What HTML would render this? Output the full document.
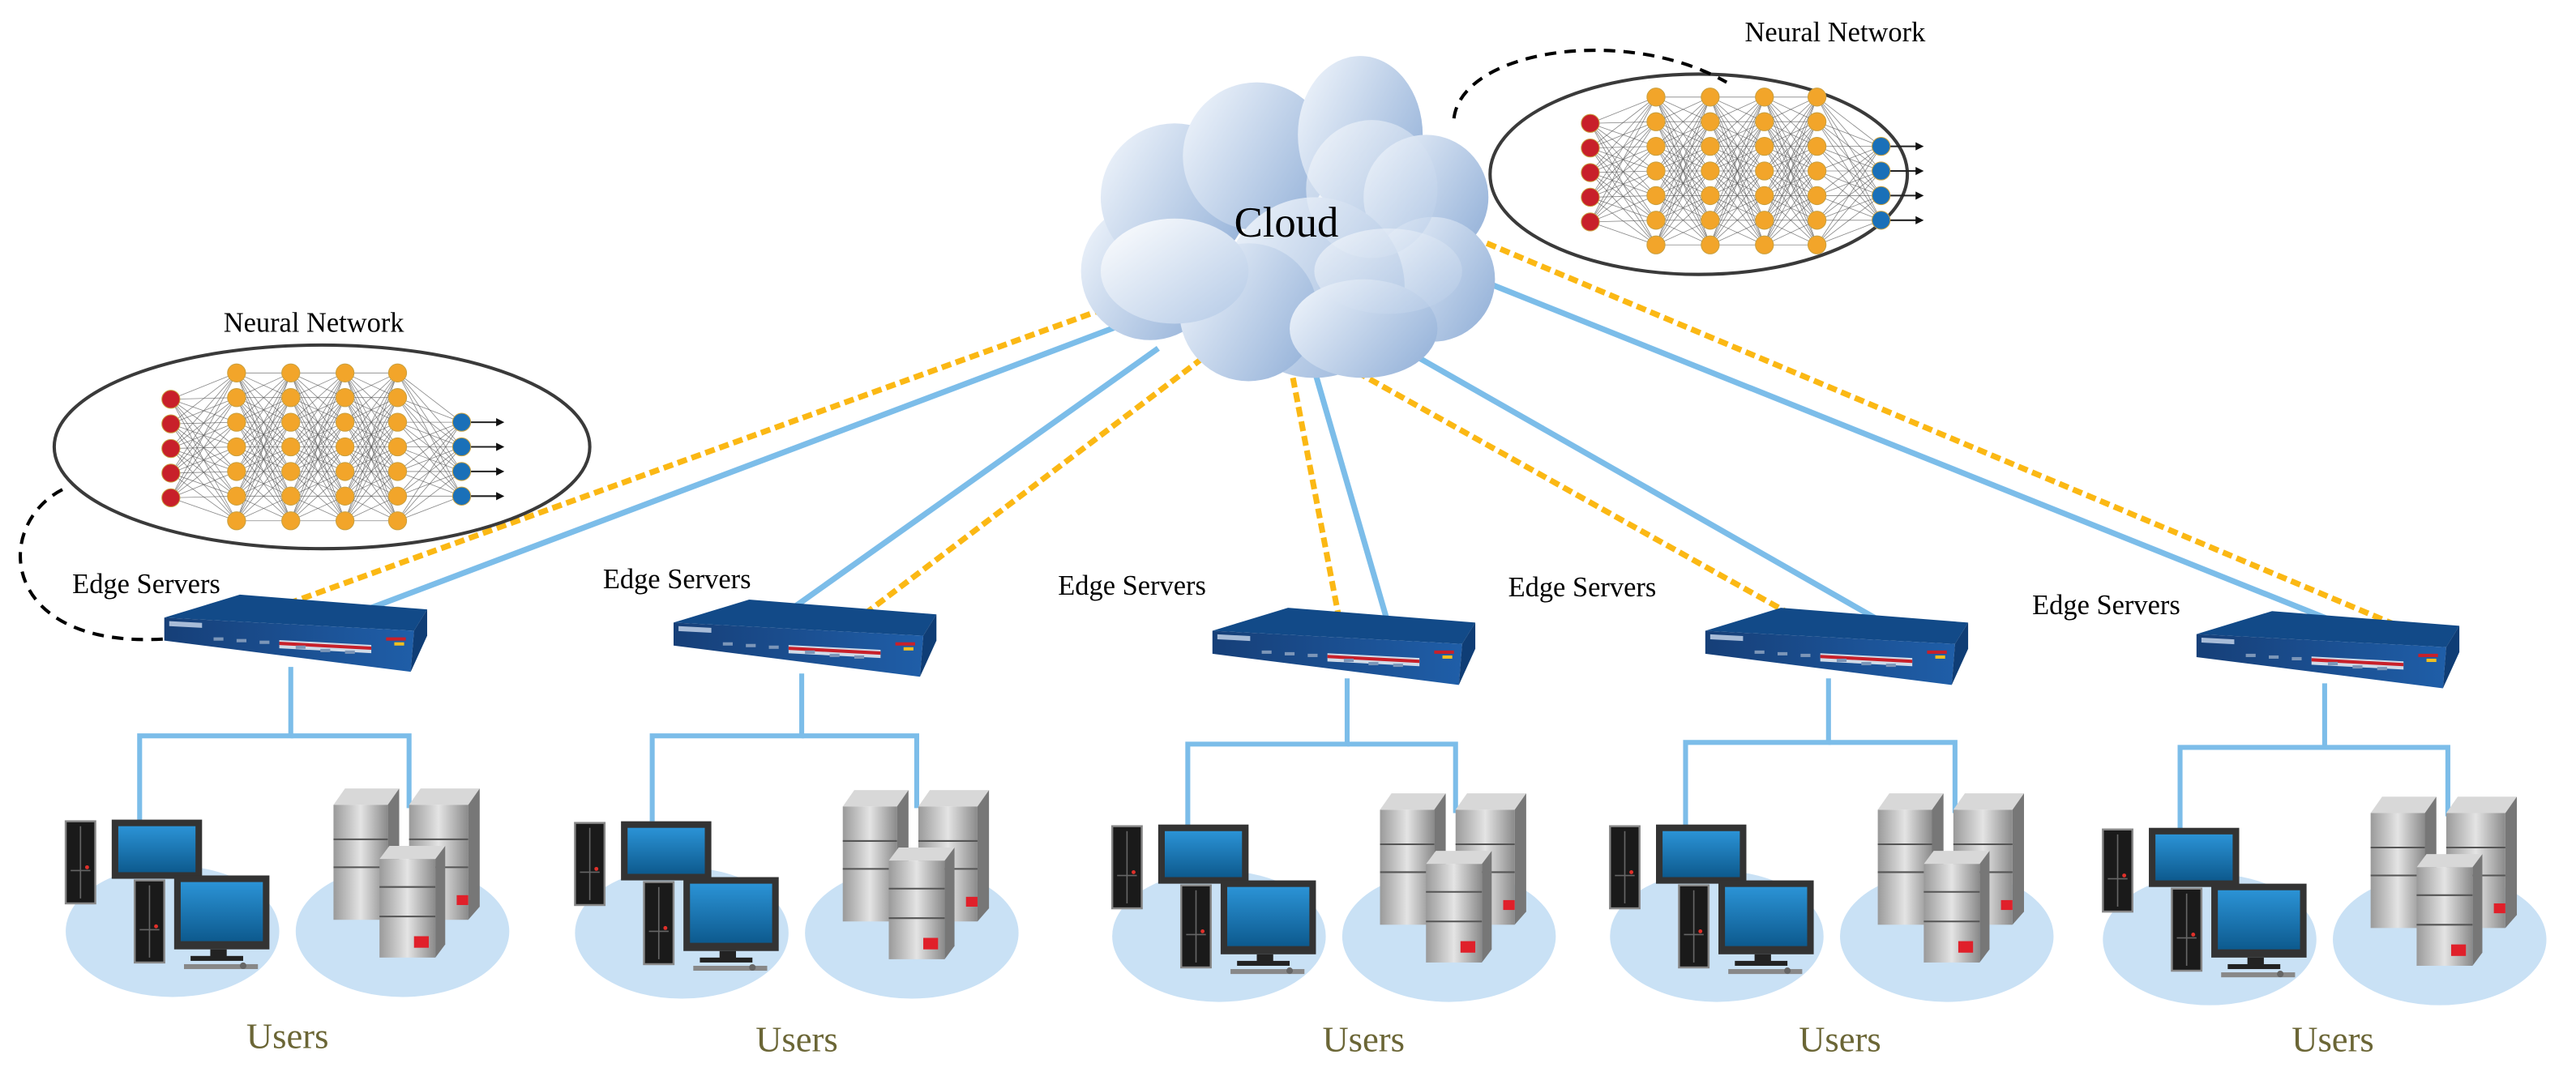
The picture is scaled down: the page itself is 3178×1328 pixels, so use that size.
<!DOCTYPE html>
<html><head><meta charset="utf-8"><style>
html,body{margin:0;padding:0;background:#fff;}
svg{display:block;}
svg text{font-family:"Liberation Serif","Times New Roman",serif !important;}
</style></head><body>
<svg id="s" width="3178" height="1328" viewBox="0 0 1568 655" xmlns="http://www.w3.org/2000/svg" font-family="Liberation Serif, serif">
<defs>
<linearGradient id="cg" x1="0" y1="0" x2="1" y2="0.6">
<stop offset="0" stop-color="#f4f8fd"/><stop offset="1" stop-color="#9db8dc"/></linearGradient>
<linearGradient id="cg2" x1="0" y1="0" x2="1" y2="1">
<stop offset="0" stop-color="#ffffff"/><stop offset="1" stop-color="#b3c9e6"/></linearGradient>
<linearGradient id="mon" x1="0" y1="0" x2="0" y2="1">
<stop offset="0" stop-color="#2b93d6"/><stop offset="1" stop-color="#0d5a8e"/></linearGradient>
<linearGradient id="srv" x1="0" y1="0" x2="1" y2="0">
<stop offset="0" stop-color="#9a9a9a"/><stop offset="0.5" stop-color="#e4e4e4"/><stop offset="1" stop-color="#8a8a8a"/></linearGradient>
<linearGradient id="sw" x1="0" y1="0" x2="1" y2="0">
<stop offset="0" stop-color="#163f78"/><stop offset="1" stop-color="#1f5ea8"/></linearGradient>
<g id="nn"></g>
<g id="switch">
<polygon points="0,14 46,0 160,9 152,22" fill="#124a88"/>
<polygon points="0,14 152,22 150,47 0,28" fill="url(#sw)"/>
<polygon points="152,22 160,9 160,25 150,47" fill="#0f3d75"/>
<rect x="70" y="24" width="56" height="5" fill="#d0dbe8" transform="skewY(3)"/>
<rect x="70" y="25" width="56" height="2" fill="#c8202a" transform="skewY(3)"/>
<rect x="3" y="16" width="20" height="3" fill="#a8bcd8" transform="skewY(3)"/>
<rect x="135" y="26" width="12" height="2" fill="#c8202a"/>
<rect x="140" y="29" width="6" height="2" fill="#f0c020"/>
<g fill="#7c96b8"><rect x="30" y="26" width="6" height="2"/><rect x="44" y="27" width="6" height="2"/><rect x="58" y="28" width="6" height="2"/><rect x="80" y="31" width="6" height="2"/><rect x="95" y="33" width="6" height="2"/><rect x="110" y="34" width="6" height="2"/></g>
</g>
<g id="tower">
<rect x="0" y="0" width="18" height="50" fill="#1a1a1a" stroke="#888" stroke-width="1.2"/>
<line x1="9" y1="3" x2="9" y2="47" stroke="#666" stroke-width="0.8"/>
<line x1="3" y1="30" x2="15" y2="30" stroke="#666" stroke-width="0.8"/>
<circle cx="13" cy="28" r="1.2" fill="#e0302a"/>
</g>
<g id="group">
<ellipse cx="105" cy="567" rx="65" ry="40" fill="#c9e1f5"/>
<ellipse cx="245" cy="567" rx="65" ry="40" fill="#c9e1f5"/>
<use href="#tower" transform="translate(40,500)"/>
<rect x="68" y="499" width="55" height="36" fill="#333"/>
<rect x="72" y="503" width="47" height="28" fill="url(#mon)"/>
<rect x="106" y="533" width="58" height="45" fill="#333"/>
<rect x="110" y="537" width="50" height="36" fill="url(#mon)"/>
<rect x="128" y="578" width="10" height="5" fill="#222"/>
<rect x="116" y="582" width="32" height="3" fill="#222"/>
<rect x="112" y="587" width="45" height="3" fill="#888"/>
<use href="#tower" transform="translate(82,536)"/>
<circle cx="148" cy="588" r="2" fill="#666"/>
<polygon points="203,490 210,480 243,480 236,490" fill="#d8d8d8"/>
<polygon points="243,480 243,552 236,560 236,490" fill="#777"/>
<rect x="203" y="490" width="33" height="70" fill="url(#srv)"/>
<polygon points="249,490 256,480 292,480 285,490" fill="#d8d8d8"/>
<polygon points="292,480 292,552 285,560 285,490" fill="#777"/>
<rect x="249" y="490" width="36" height="70" fill="url(#srv)"/>
<rect x="278" y="545" width="7" height="6" fill="#e0202a"/>
<line x1="203" y1="511" x2="236" y2="511" stroke="#555"/><line x1="203" y1="528" x2="236" y2="528" stroke="#555"/>
<line x1="249" y1="511" x2="285" y2="511" stroke="#555"/><line x1="249" y1="528" x2="285" y2="528" stroke="#555"/>
<polygon points="231,523 237,515 271,515 265,523" fill="#d8d8d8"/>
<polygon points="271,515 271,575 265,583 265,523" fill="#777"/>
<rect x="231" y="523" width="34" height="60" fill="url(#srv)"/>
<line x1="231" y1="540" x2="265" y2="540" stroke="#555"/><line x1="231" y1="558" x2="265" y2="558" stroke="#555"/>
<rect x="252" y="570" width="9" height="7" fill="#e0202a"/>
</g>
</defs>

<g fill="none" stroke-width="3.5">
<g stroke="#7cbde9">
<line x1="690" y1="195" x2="210" y2="376"/>
<line x1="705" y1="212" x2="480" y2="372"/>
<line x1="800" y1="225" x2="845" y2="380"/>
<line x1="850" y1="210" x2="1155" y2="384"/>
<line x1="900" y1="170" x2="1425" y2="380"/>
</g>
<g stroke="#fbb814" stroke-dasharray="6,3">
<line x1="672" y1="188" x2="160" y2="373"/>
<line x1="732" y1="218" x2="526" y2="374"/>
<line x1="787" y1="230" x2="815" y2="376"/>
<line x1="818" y1="222" x2="1090" y2="374"/>
<line x1="905" y1="148" x2="1462" y2="382"/>
</g>
</g>

<g>
<circle cx="700" cy="165" r="42" fill="url(#cg)"/>
<circle cx="715" cy="120" r="45" fill="url(#cg)"/>
<circle cx="765" cy="95" r="45" fill="url(#cg)"/>
<ellipse cx="828" cy="82" rx="38" ry="48" fill="url(#cg)"/>
<circle cx="868" cy="120" r="38" fill="url(#cg)"/>
<circle cx="872" cy="170" r="38" fill="url(#cg)"/>
<circle cx="800" cy="175" r="55" fill="url(#cg)"/>
<circle cx="760" cy="190" r="42" fill="url(#cg)"/>
<ellipse cx="830" cy="200" rx="45" ry="30" fill="url(#cg)"/>
<ellipse cx="715" cy="165" rx="45" ry="32" fill="url(#cg2)"/>
<ellipse cx="835" cy="115" rx="40" ry="42" fill="url(#cg2)" opacity="0.6"/>
<ellipse cx="845" cy="165" rx="45" ry="26" fill="url(#cg2)" opacity="0.6"/>
</g>
<text x="783" y="144" font-size="26" text-anchor="middle">Cloud</text>

<ellipse cx="1034" cy="106" rx="127" ry="61" fill="#fff" stroke="#3a3a3a" stroke-width="2"/>
<ellipse cx="196" cy="272" rx="163" ry="62" fill="#fff" stroke="#3a3a3a" stroke-width="2"/>
<use href="#nn"/>
<use href="#nn" transform="translate(-864,168)"/>
<text x="1117" y="25" font-size="17" text-anchor="middle">Neural Network</text>
<text x="191" y="202" font-size="17" text-anchor="middle">Neural Network</text>
<path d="M885,72 C890,30 990,15 1051,50" fill="none" stroke="#000" stroke-width="2" stroke-dasharray="7,5"/>
<path d="M38,298 C-5,320 0,395 100,389" fill="none" stroke="#000" stroke-width="2" stroke-dasharray="7,5"/>

<use href="#switch" transform="translate(100,362)"/>
<use href="#switch" transform="translate(410,365)"/>
<use href="#switch" transform="translate(738,370)"/>
<use href="#switch" transform="translate(1038,370)"/>
<use href="#switch" transform="translate(1337,372)"/>
<g font-size="17">
<text x="44" y="361">Edge Servers</text>
<text x="367" y="358">Edge Servers</text>
<text x="644" y="362">Edge Servers</text>
<text x="918" y="363">Edge Servers</text>
<text x="1237" y="374">Edge Servers</text>
</g>

<g fill="none" stroke="#7cbde9" stroke-width="3">
<polyline points="85,500 85,448 177,448 177,406"/><polyline points="177,448 249,448 249,492"/>
<polyline points="397,500 397,448 488,448 488,410"/><polyline points="488,448 558,448 558,492"/>
<polyline points="723,503 723,453 820,453 820,413"/><polyline points="820,453 886,453 886,495"/>
<polyline points="1026,503 1026,452 1113,452 1113,413"/><polyline points="1113,452 1190,452 1190,495"/>
<polyline points="1327,505 1327,455 1415,455 1415,416"/><polyline points="1415,455 1490,455 1490,497"/>
</g>

<use href="#group"/>
<use href="#group" transform="translate(310,1)"/>
<use href="#group" transform="translate(637,3)"/>
<use href="#group" transform="translate(940,3)"/>
<use href="#group" transform="translate(1240,5)"/>

<g font-size="22" fill="#6b6636" text-anchor="middle">
<text x="175" y="638">Users</text>
<text x="485" y="640">Users</text>
<text x="830" y="640">Users</text>
<text x="1120" y="640">Users</text>
<text x="1420" y="640">Users</text>
</g>
</svg>
<script>
(function(){
var ns="http://www.w3.org/2000/svg",g=document.getElementById("nn");
var cols=[[968,[75,90,105,120,135],"#c8202a"]];
var ox=[1008,1041,1074,1106];
for(var i=0;i<4;i++){cols.push([ox[i],[59,74,89,104,119,134,149],"#f2a52a"]);}
cols.push([1145,[89,104,119,134],"#1a70b8"]);
function el(t,a){var e=document.createElementNS(ns,t);for(var k in a)e.setAttribute(k,a[k]);g.appendChild(e);return e;}
for(var c=0;c<cols.length-1;c++){var A=cols[c],B=cols[c+1];
for(var i=0;i<A[1].length;i++)for(var j=0;j<B[1].length;j++)
el("line",{x1:A[0],y1:A[1][i],x2:B[0],y2:B[1][j],stroke:"#555","stroke-width":"0.4",opacity:"0.7"});}
var L=cols[cols.length-1];
for(var i=0;i<L[1].length;i++){el("line",{x1:L[0],y1:L[1][i],x2:L[0]+22,y2:L[1][i],stroke:"#222","stroke-width":"1"});
el("polygon",{points:(L[0]+26)+","+L[1][i]+" "+(L[0]+21)+","+(L[1][i]-2.5)+" "+(L[0]+21)+","+(L[1][i]+2.5),fill:"#111"});}
for(var c=0;c<cols.length;c++)for(var i=0;i<cols[c][1].length;i++)
el("circle",{cx:cols[c][0],cy:cols[c][1][i],r:"5.5",fill:cols[c][2],stroke:"#c9a040","stroke-width":"0.5"});
})();
</script>
</body></html>
